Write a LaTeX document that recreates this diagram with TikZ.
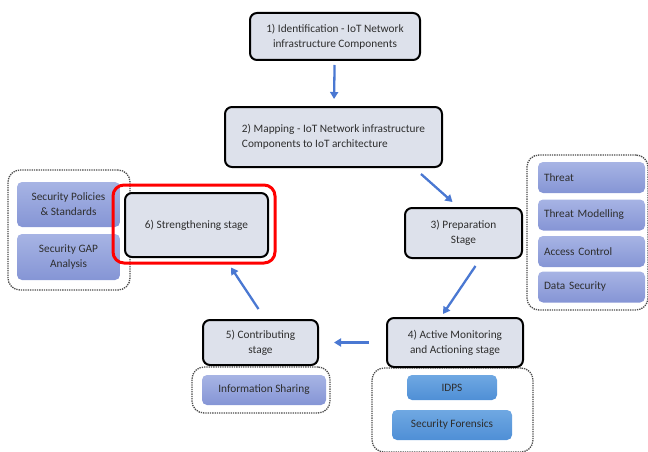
\documentclass[tikz,border=0pt]{standalone}
\usepackage{fontspec}
\setmainfont{Carlito}
\usepackage{tikz}
\usetikzlibrary{arrows.meta}

\definecolor{stagefill}{HTML}{DDE1EB}
\definecolor{itemtop}{HTML}{A7B4E4}
\definecolor{itembot}{HTML}{8595D5}
\definecolor{idpstop}{HTML}{6FA8E2}
\definecolor{idpsbot}{HTML}{4F8FD6}
\definecolor{flowblue}{HTML}{4A78D2}
\definecolor{txtgray}{HTML}{2E2E2E}

\tikzset{
  stage/.style={draw=black, line width=2pt, rounded corners=7pt,
    fill=stagefill, text=txtgray, font=\fontsize{11.3}{15}\selectfont,
    align=center, inner sep=2pt},
  item/.style={rounded corners=5pt, top color=itemtop, bottom color=itembot,
    text=txtgray, font=\fontsize{11.3}{15}\selectfont, inner sep=2pt},
  tool/.style={item, top color=idpstop, bottom color=idpsbot},
  group/.style={draw=black!70, densely dotted, line width=1.3pt,
    rounded corners=12pt},
  flow/.style={-{Triangle[length=7pt,width=8pt]}, draw=flowblue,
    line width=2.3pt}
}

\begin{document}
\begin{tikzpicture}[x=1pt,y=-1pt]
\useasboundingbox (0,0) rectangle (648,452);

%--------------------
% 補助項目
%--------------------
% 準備段階
\node[group, minimum width=121pt, minimum height=155pt] (prepgroup) at (587.5,232.5) {};
\node[item, minimum width=107pt, minimum height=31pt, text width=95pt] (threat) at (591.5,177.5) {Threat};
\node[item, minimum width=107pt, minimum height=31pt, text width=95pt] (modelling) at (591.5,215) {Threat Modelling};
\node[item, minimum width=107pt, minimum height=31pt, text width=95pt] (access) at (591.5,251.5) {Access Control};
\node[item, minimum width=107pt, minimum height=31pt, text width=95pt] (datasec) at (591.5,287) {Data Security};

% 監視段階
\node[group, minimum width=161pt, minimum height=84pt] (monitorgroup) at (452.5,410) {};
\node[tool, minimum width=90pt, minimum height=25pt] (idps) at (452,387.5) {IDPS};
\node[tool, minimum width=120pt, minimum height=30pt] (forensics) at (452,425) {Security Forensics};

% 貢献段階
\node[group, minimum width=138pt, minimum height=46pt] (contribgroup) at (261,390) {};
\node[item, minimum width=124pt, minimum height=30pt] (sharing) at (264,390) {Information Sharing};

% 強化段階
\node[group, minimum width=122pt, minimum height=120pt] (strengthgroup) at (69,230) {};
\node[item, minimum width=103pt, minimum height=45pt, align=center] (policies) at (68.5,204.5)
  {Security Policies\\\& Standards};
\node[item, minimum width=103pt, minimum height=46pt, align=center] (gap) at (68.5,257)
  {Security GAP\\Analysis};

%--------------------
% 段階
%--------------------
\node[stage, minimum width=170pt, minimum height=47pt] (ident) at (335,36.5)
  {1) Identification - IoT Network\\infrastructure Components};
\node[stage, minimum width=217pt, minimum height=60pt, align=left] (mapping) at (333.5,137)
  {2) Mapping - IoT Network infrastructure\\Components to IoT architecture};
\node[stage, minimum width=117pt, minimum height=50pt] (prep) at (463.5,233)
  {3) Preparation\\Stage};
\node[stage, minimum width=136pt, minimum height=49pt] (monitor) at (455,342.5)
  {4) Active Monitoring\\and Actioning stage};
\node[stage, minimum width=115pt, minimum height=45pt] (contrib) at (260.5,342.5)
  {5) Contributing\\stage};
\node[stage, minimum width=143pt, minimum height=64pt] (strength) at (196.5,225)
  {6) Strengthening stage};

% 強調枠
\node[draw=red, line width=3pt, rounded corners=11pt,
  minimum width=162pt, minimum height=78pt] (mark6) at (194,224) {};

%--------------------
% 流れ
%--------------------
\draw[flow, shorten <=4pt, shorten >=7pt] (ident) -- (mapping);
\draw[flow] ([xshift=-22pt,yshift=-6pt]mapping.south east)
  -- ([xshift=-11pt,yshift=5pt]prep.north);
\draw[flow] ([xshift=12pt,yshift=-7pt]prep.south)
  -- ([xshift=-12pt,yshift=3pt]monitor.north);
\draw[flow, shorten <=17pt, shorten >=15pt] (monitor) -- (contrib);
\draw[flow] ([xshift=-2pt,yshift=10pt]contrib.north)
  -- ([xshift=37pt,yshift=-3pt]mark6.south);

\end{tikzpicture}
\end{document}
